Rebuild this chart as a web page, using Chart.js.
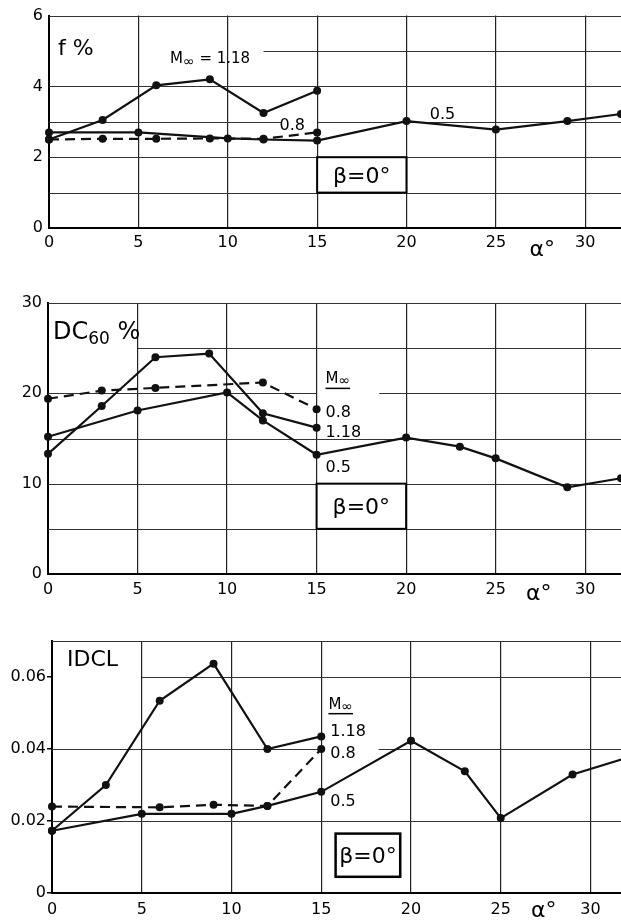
<!DOCTYPE html>
<html>
<head>
<meta charset="utf-8">
<script src="https://cdn.jsdelivr.net/npm/chart.js@4.4.0/dist/chart.umd.min.js"></script>
<style>
    html, body { margin: 0; padding: 0; background: #fff; }
    body { width: 621px; height: 920px; position: relative; overflow: hidden; }
    canvas { position: absolute; left: 0; display: block; }
</style>
</head>
<body>
<canvas id="chartF" width="625" height="262" style="top:0"></canvas>
<canvas id="chartDC" width="625" height="318" style="top:282px"></canvas>
<canvas id="chartIDCL" width="625" height="300" style="top:620px"></canvas>
<script>
// angle of attack, shared tick labels
const alphaTicks = [0, 5, 10, 15, 20, 25, 30];

// f %
const fTicks = [0, 2, 4, 6];
const fAlpha118 = [0, 3, 6, 9, 12, 15];
const fM118 = [2.5, 3.05, 4.03, 4.2, 3.25, 3.88];
const fAlpha08 = [0, 3, 6, 9, 12, 15];
const fM08 = [2.5, 2.52, 2.52, 2.53, 2.52, 2.7];
const fAlpha05 = [0, 5, 10, 12, 15, 20, 25, 29, 32];
const fM05 = [2.7, 2.7, 2.53, 2.5, 2.47, 3.02, 2.78, 3.02, 3.22];

// DC60 %
const dcTicks = [0, 10, 20, 30];
const dcAlpha118 = [0, 3, 6, 9, 12, 15];
const dcM118 = [13.3, 18.6, 24.0, 24.4, 17.8, 16.2];
const dcAlpha08 = [0, 3, 6, 12, 15];
const dcM08 = [19.4, 20.3, 20.6, 21.2, 18.25];
const dcAlpha05 = [0, 5, 10, 12, 15, 20, 23, 25, 29, 32];
const dcM05 = [15.2, 18.1, 20.1, 17.0, 13.2, 15.1, 14.1, 12.8, 9.6, 10.6];

// IDCL
const idclTicks = [0, 0.02, 0.04, 0.06];
const idclAlpha118 = [0, 3, 6, 9, 12, 15];
const idclM118 = [0.0173, 0.030, 0.0534, 0.0637, 0.040, 0.0435];
const idclAlpha08 = [0, 6, 9, 12, 15];
const idclM08 = [0.024, 0.0238, 0.0245, 0.0242, 0.040];
const idclAlpha05 = [0, 5, 10, 12, 15, 20, 23, 25, 29, 32];
const idclM05 = [0.0173, 0.022, 0.022, 0.0242, 0.0281, 0.0423, 0.0338, 0.0208, 0.0329, 0.0375];

const FONT = '"DejaVu Sans", sans-serif';
const INK = '#111';

// draw a row of text pieces [text, size, dy] starting at px, centred on py
function drawRuns(ctx, px, py, runs, align, underline) {
    let w = 0;
    runs.forEach(r => { ctx.font = r[1] + 'px ' + FONT; w += ctx.measureText(r[0]).width; });
    let cx = align === 'center' ? px - w / 2 : px;
    const base = py + runs[0][1] * 0.36;
    ctx.fillStyle = '#000';
    ctx.textBaseline = 'alphabetic';
    ctx.textAlign = 'left';
    runs.forEach(r => {
        ctx.font = r[1] + 'px ' + FONT;
        ctx.fillText(r[0], cx, base + r[2]);
        cx += ctx.measureText(r[0]).width;
    });
    if (underline) {
        ctx.lineWidth = 1.5;
        ctx.strokeStyle = '#000';
        ctx.beginPath();
        ctx.moveTo(cx - w, base + 5);
        ctx.lineTo(cx, base + 5);
        ctx.stroke();
    }
}

function decor(cfg) {
    return {
        id: 'decor',
        beforeDatasetsDraw(chart) {
            const { ctx, scales: { x, y } } = chart;
            ctx.save();
            ctx.strokeStyle = '#333';
            ctx.lineWidth = 1.2;
            cfg.hLines.forEach(([v, from, to]) => {
                const py = Math.round(y.getPixelForValue(v)) + 0.5;
                ctx.beginPath();
                ctx.moveTo(x.getPixelForValue(from), py);
                ctx.lineTo(x.getPixelForValue(to), py);
                ctx.stroke();
            });
            cfg.boxes.forEach(b => {
                const left = x.getPixelForValue(b.x0), right = x.getPixelForValue(b.x1);
                const top = y.getPixelForValue(b.y1), bottom = y.getPixelForValue(b.y0);
                ctx.fillStyle = '#fff';
                ctx.fillRect(left, top, right - left, bottom - top);
                ctx.lineWidth = b.lw;
                ctx.strokeStyle = '#000';
                ctx.strokeRect(left, top, right - left, bottom - top);
                drawRuns(ctx, (left + right) / 2, (top + bottom) / 2, [['β=0°', 22, 0]], 'center');
            });
            ctx.restore();
        },
        afterDatasetsDraw(chart) {
            const { ctx, chartArea, scales: { x, y } } = chart;
            ctx.save();
            cfg.labels.forEach(l => {
                drawRuns(ctx, x.getPixelForValue(l.x), y.getPixelForValue(l.y), l.runs, 'left', l.underline);
            });
            drawRuns(ctx, x.getPixelForValue(cfg.alphaAt), chartArea.bottom + cfg.alphaDy, [['α°', 22, 0]], 'center');
            ctx.restore();
        }
    };
}

function makeSeries(xs, ys, dash) {
    return {
        data: xs.map((a, i) => ({ x: a, y: ys[i] })),
        showLine: true,
        borderColor: INK,
        borderWidth: 2.2,
        borderDash: dash || [],
        pointRadius: 4,
        pointHoverRadius: 4,
        pointBackgroundColor: INK,
        pointBorderWidth: 0,
        clip: false
    };
}

function makeChart(id, cfg) {
    return new Chart(document.getElementById(id), {
        type: 'scatter',
        data: { datasets: cfg.series },
        options: {
            responsive: false,
            animation: false,
            layout: { padding: { top: cfg.top, left: 0, right: 0, bottom: 0 } },
            plugins: { legend: { display: false }, tooltip: { enabled: false } },
            scales: {
                x: {
                    type: 'linear',
                    min: 0,
                    max: cfg.xMax,
                    afterBuildTicks: s => { s.ticks = alphaTicks.map(v => ({ value: v })); },
                    afterFit: s => { s.height = cfg.xAxisH; },
                    grid: { color: '#222', lineWidth: 1.2, drawTicks: false },
                    border: { color: '#000', width: 2 },
                    ticks: {
                        color: '#000',
                        font: { family: FONT, size: 16 },
                        padding: cfg.xPad,
                        maxRotation: 0,
                        autoSkip: false
                    }
                },
                y: {
                    type: 'linear',
                    min: 0,
                    max: cfg.yMax,
                    afterBuildTicks: s => { s.ticks = cfg.yTicks.map(v => ({ value: v })); },
                    afterFit: s => { s.width = cfg.yAxisW; },
                    grid: { drawOnChartArea: false, drawTicks: cfg.tickMarks, tickLength: 5, color: '#000', lineWidth: 1.5 },
                    border: { color: '#000', width: 2 },
                    ticks: {
                        color: '#000',
                        font: { family: FONT, size: 16 },
                        padding: cfg.yPad,
                        callback: v => String(v)
                    }
                }
            }
        },
        plugins: [decor(cfg)]
    });
}

makeChart('chartF', {
    series: [
        makeSeries(fAlpha118, fM118),
        makeSeries(fAlpha08, fM08, [10, 6]),
        makeSeries(fAlpha05, fM05)
    ],
    top: 10, xAxisH: 34, yAxisW: 49, xPad: 5, yPad: 6, tickMarks: false,
    xMax: 32, yMax: 6, yTicks: fTicks,
    hLines: [[1, 0, 32], [2, 0, 32], [3, 0, 13], [3, 15, 32], [4, 0, 32], [5, 12, 32], [6, 0, 32]],
    boxes: [{ x0: 15, x1: 20, y0: 1, y1: 2, lw: 2 }],
    labels: [
        { x: 0.5, y: 5.12, runs: [['f %', 22, 0]] },
        { x: 6.77, y: 4.82, runs: [['M', 15, 0], ['∞', 14, 3], [' = 1.18', 15, 0]] },
        { x: 12.9, y: 2.92, runs: [['0.8', 16, 0]] },
        { x: 21.3, y: 3.25, runs: [['0.5', 16, 0]] }
    ],
    alphaAt: 27.6, alphaDy: 20
});

makeChart('chartDC', {
    series: [
        makeSeries(dcAlpha118, dcM118),
        makeSeries(dcAlpha08, dcM08, [10, 6]),
        makeSeries(dcAlpha05, dcM05)
    ],
    top: 21, xAxisH: 26, yAxisW: 48, xPad: 6, yPad: 6, tickMarks: false,
    xMax: 32, yMax: 30, yTicks: dcTicks,
    hLines: [[5, 0, 32], [10, 0, 32], [15, 0, 32], [20, 0, 15], [20, 18.5, 32], [25, 5, 32], [30, 0, 32]],
    boxes: [{ x0: 15, x1: 20, y0: 5, y1: 10, lw: 2 }],
    labels: [
        { x: 0.28, y: 27, runs: [['DC', 24, 0], ['60', 17, 5], [' %', 24, 0]] },
        { x: 15.5, y: 21.7, runs: [['M', 15, 0], ['∞', 14, 2]], underline: true },
        { x: 15.5, y: 18.0, runs: [['0.8', 16, 0]] },
        { x: 15.5, y: 15.8, runs: [['1.18', 16, 0]] },
        { x: 15.5, y: 11.9, runs: [['0.5', 16, 0]] }
    ],
    alphaAt: 27.4, alphaDy: 18
});

makeChart('chartIDCL', {
    series: [
        makeSeries(idclAlpha118, idclM118),
        makeSeries(idclAlpha08, idclM08, [10, 6]),
        makeSeries(idclAlpha05, idclM05)
    ],
    top: 21, xAxisH: 27, yAxisW: 52, xPad: 7, yPad: 1, tickMarks: true,
    xMax: 31.7, yMax: 0.07, yTicks: idclTicks,
    hLines: [[0.02, 0, 31.7], [0.04, 0, 15], [0.04, 18.2, 31.7], [0.06, 5, 31.7], [0.07, 0, 31.7]],
    boxes: [{ x0: 15.8, x1: 19.4, y0: 0.0045, y1: 0.0165, lw: 2.5 }],
    labels: [
        { x: 0.84, y: 0.0653, runs: [['IDCL', 22, 0]] },
        { x: 15.4, y: 0.0527, runs: [['M', 15, 0], ['∞', 14, 2]], underline: true },
        { x: 15.5, y: 0.0451, runs: [['1.18', 16, 0]] },
        { x: 15.5, y: 0.039, runs: [['0.8', 16, 0]] },
        { x: 15.5, y: 0.0258, runs: [['0.5', 16, 0]] }
    ],
    alphaAt: 27.4, alphaDy: 16
});
</script>
</body>
</html>
